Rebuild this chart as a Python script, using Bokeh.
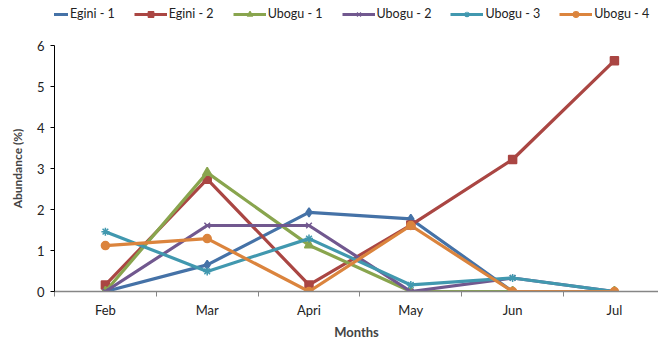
from bokeh.plotting import figure
from bokeh.layouts import column
from bokeh.models import FixedTicker, Legend, LegendItem, Range1d
from bokeh.embed import file_html
from bokeh.resources import INLINE

months = ["Feb", "Mar", "Apri", "May", "Jun", "Jul"]

egini_1 = [0.0, 0.65, 1.93, 1.77, 0.0, 0.0]
egini_2 = [0.16, 2.74, 0.16, 1.62, 3.22, 5.63]
ubogu_1 = [0.0, 2.90, 1.13, 0.0, 0.0, 0.0]
ubogu_2 = [0.0, 1.61, 1.61, 0.0, 0.33, 0.0]
ubogu_3 = [1.46, 0.49, 1.29, 0.16, 0.33, 0.0]
ubogu_4 = [1.12, 1.29, 0.0, 1.61, 0.0, 0.0]

series = [
    ("Egini - 1", egini_1, "#4572A7", "diamond", 9),
    ("Egini - 2", egini_2, "#AA4643", "square", 8),
    ("Ubogu - 1", ubogu_1, "#89A54E", "triangle", 9),
    ("Ubogu - 2", ubogu_2, "#71588F", "x", 8),
    ("Ubogu - 3", ubogu_3, "#4198AF", "asterisk", 8),
    ("Ubogu - 4", ubogu_4, "#DB843D", "circle", 8),
]

FONT = "Lato"
centers = [i + 0.5 for i in range(len(months))]

# --- legend strip across the top -------------------------------------------
leg = figure(width=658, height=37, output_backend="svg", toolbar_location=None,
             x_range=Range1d(0, 1), y_range=Range1d(0, 1),
             x_axis_location=None, y_axis_location=None,
             min_border=0)
leg.outline_line_color = None
leg.grid.visible = False

# --- main chart ------------------------------------------------------------
p = figure(width=658, height=305, output_backend="svg", toolbar_location=None,
           x_range=Range1d(0, 5.933), y_range=Range1d(0, 6),
           min_border_left=54, min_border_right=0, min_border_top=8,
           min_border_bottom=50)
p.outline_line_color = None
p.xgrid.visible = False
p.ygrid.visible = False

items = []
for name, vals, color, marker, size in series:
    p.line(centers, vals, line_color=color, line_width=3.2)
    p.scatter(centers, vals, marker=marker, size=size, fill_color=color,
              line_color=color, line_width=1.5)
    # key samples for the legend strip (parked outside the visible range)
    l1 = leg.line([-5, -4], [-5, -4], line_color=color, line_width=3.2)
    l2 = leg.scatter([-5], [-5], marker=marker, size=size - 2, fill_color=color,
                     line_color=color, line_width=1.2)
    items.append(LegendItem(label=name, renderers=[l1, l2]))

legend = Legend(items=items, orientation="horizontal", location=(-19, 16))
legend.border_line_color = None
legend.background_fill_alpha = 0
legend.padding = 0
legend.margin = 0
legend.spacing = 19
legend.glyph_width = 33
legend.glyph_height = 14
legend.label_standoff = 2
legend.label_text_font = FONT
legend.label_text_font_size = "12.5px"
legend.label_text_color = "#222222"
legend.label_height = 14
leg.add_layout(legend, "center")

# x axis: labels at category centres, tick marks between categories
xa = p.xaxis[0]
xa.ticker = FixedTicker(ticks=centers, minor_ticks=list(range(0, 7)))
xa.major_label_overrides = {c: m for c, m in zip(centers, months)}
xa.major_tick_out = 0
xa.major_tick_in = 0
xa.minor_tick_out = 5
xa.minor_tick_in = 0
xa.minor_tick_line_color = "#868686"
xa.axis_line_color = "#868686"
xa.axis_line_width = 1.5
xa.major_label_text_font = FONT
xa.major_label_text_font_size = "13px"
xa.major_label_text_color = "#222222"
xa.major_label_standoff = 5
xa.axis_label = "Months"
xa.axis_label_text_font = FONT
xa.axis_label_text_font_style = "bold"
xa.axis_label_text_font_size = "13px"
xa.axis_label_standoff = 3

ya = p.yaxis[0]
ya.ticker = FixedTicker(ticks=list(range(0, 7)))
ya.minor_tick_line_color = None
ya.major_tick_out = 4
ya.major_tick_in = 0
ya.axis_line_color = "black"
ya.major_tick_line_color = "black"
ya.major_label_text_font = FONT
ya.major_label_text_font_size = "13px"
ya.major_label_text_color = "#222222"
ya.major_label_standoff = 6
ya.axis_label = "Abundance (%)"
ya.axis_label_text_font = FONT
ya.axis_label_text_font_style = "bold"
ya.axis_label_text_font_size = "12px"
ya.axis_label_standoff = 9

layout = column(leg, p, spacing=0)
open("out.html", "w").write(file_html(layout, INLINE))
